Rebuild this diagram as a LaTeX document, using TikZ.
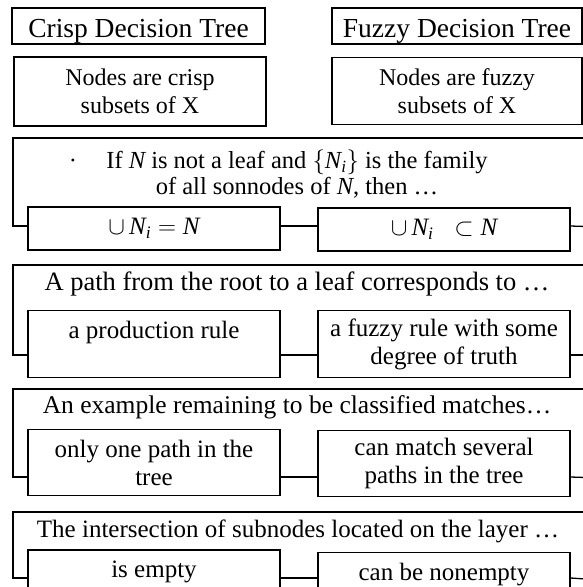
\documentclass[tikz,border=0pt]{standalone}
\usepackage{amsmath,amssymb, mathspec}
\setmainfont{Liberation Serif}
\setmathsfont(Digits,Latin){Liberation Serif}

\begin{document}
\begin{tikzpicture}[x = 1pt, y = -1pt,
        every node/.style = {font = \fontsize{25}{28}\selectfont},
        box/.style = {draw, line width = 1.3pt, fill = white, align = center, inner sep = 0pt},
        head/.style = {box, minimum height = 36pt, text height = 22pt, text depth = 0pt,
          font = \fontsize{27.5}{28}\selectfont},
        wire/.style = {line width = 1.3pt}]
        \useasboundingbox (0,0) rectangle (583,587);
        \node [head, minimum width = 253pt] (crisp) at (138.5,26) {Crisp Decision Tree};
        \node [head, minimum width = 250pt] (fuzzy) at (457,26) {Fuzzy Decision Tree};
        \node [box, minimum width = 252pt, minimum height = 69pt, font = \fontsize{24}{28}\selectfont] (crispset) at (140,91.5) {Nodes are crisp\\subsets of X};
        \node [box, minimum width = 250pt, minimum height = 67pt, font = \fontsize{24}{28}\selectfont] (fuzzyset) at (457,91) {Nodes are fuzzy\\subsets of X};
        \node [align = center, font = \fontsize{24.5}{26}\selectfont] (ask1) at (297,174) {If $N$ is not a leaf and $\{N_i\}$ is the family\\of all sonnodes of $N$, then \dots};
        \node (dot1) at (73,162) {\fontsize{12}{12}\selectfont\textbullet};
        \node [box, minimum width = 252pt, minimum height = 43pt] (crisp1) at (154,228.5) {$\cup\, N_i = N$};
        \node [box, minimum width = 252pt, minimum height = 43pt] (fuzzy1) at (444,229.5) {$\cup\, N_i\;\; \subset N$};
        \node [anchor = base, font = \fontsize{26.5}{28}\selectfont] (ask2) at (297,290) {A path from the root to a leaf corresponds to \dots};
        \node [box, minimum width = 252pt, minimum height = 67pt] (crisp2) at (154,344) {a production rule\\\mbox{}};
        \node [box, minimum width = 252pt, minimum height = 67pt] (fuzzy2) at (444,344) {a fuzzy rule with some\\degree of truth};
        \node [anchor = base, font = \fontsize{25.5}{28}\selectfont] (ask3) at (297,413) {An example remaining to be classified matches\dots};
        \node [box, minimum width = 252pt, minimum height = 66pt] (crisp3) at (154,462.5) {only one path in the\\tree};
        \node [box, minimum width = 252pt, minimum height = 66pt] (fuzzy3) at (444,463.5) {can match several\\paths in the tree};
        \node [anchor = base] (ask4) at (298,537) {The intersection of subnodes located on the layer \dots};
        \node [box, minimum width = 252pt, minimum height = 67pt] (crisp4) at (154,583.5) {is empty\\\mbox{}};
        \node [box, minimum width = 252pt, minimum height = 67pt] (fuzzy4) at (444,586) {can be nonempty\\\mbox{}};
        \coordinate (j1) at (13,226);
        \coordinate (j2) at (13,355);
        \coordinate (j3) at (13,477);
        \coordinate (j4) at (13,578);
        \draw [wire] (crisp1.west |- j1) -- (j1) -- (13,138) -- (600,138);
        \draw [wire] (crisp1.east |- j1) -- (fuzzy1.west |- j1);
        \draw [wire] (fuzzy1.east |- j1) -- (600,227);
        \draw [wire] (crisp2.west |- j2) -- (j2) -- (13,265) -- (600,265);
        \draw [wire] (crisp2.east |- j2) -- (fuzzy2.west |- j2);
        \draw [wire] (fuzzy2.east |- j2) -- (600,355);
        \draw [wire] (crisp3.west |- j3) -- (j3) -- (13,389) -- (600,389);
        \draw [wire] (crisp3.east |- j3) -- (fuzzy3.west |- j3);
        \draw [wire] (fuzzy3.east |- j3) -- (600,478);
        \draw [wire] (crisp4.west |- j4) -- (j4) -- (13,512) -- (600,512);
        \draw [wire] (crisp4.east |- j4) -- (fuzzy4.west |- j4);
        \draw [wire] (fuzzy4.east |- j4) -- (600,580);
      \end{tikzpicture}
\end{document}
